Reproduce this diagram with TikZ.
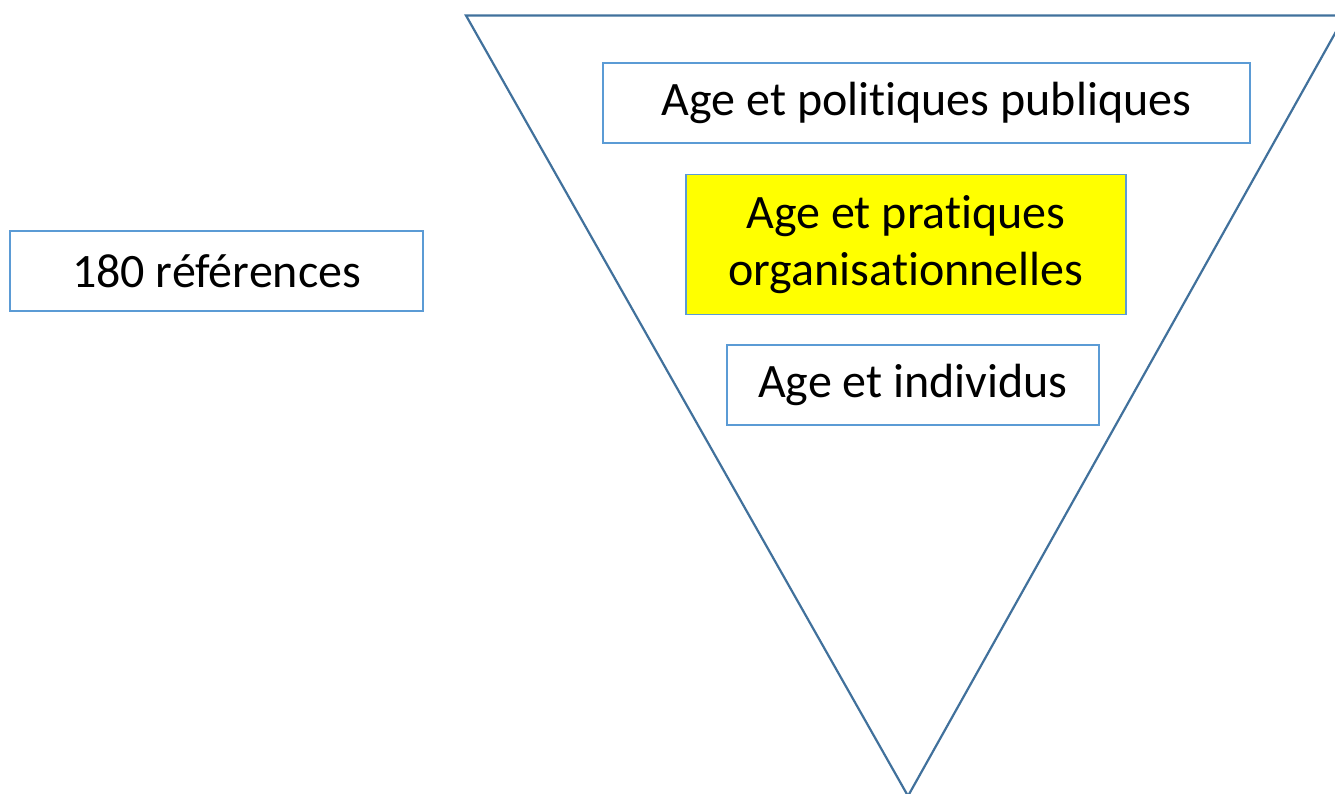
\documentclass[tikz,border=0pt]{standalone}
\usepackage{fontspec}
\setmainfont{Carlito}[Ligatures=NoCommon]
\definecolor{boxblue}{HTML}{5B9BD5}
\definecolor{triblue}{HTML}{41719C}
\definecolor{boxyellow}{HTML}{FFFF00}
\begin{document}
\begin{tikzpicture}[x=1pt,y=-1pt,
  lbox/.style={draw=boxblue,line width=1.5pt,inner sep=0pt,font=\fontsize{48}{57}\selectfont,align=center},
]
\useasboundingbox (0,0) rectangle (1335,794);
\begin{scope}
\clip (0,0) rectangle (1335,794);
\draw[triblue,line width=2.2pt,line join=miter] (466,15.5) -- (1345,15.5) -- (908,796) -- cycle;
\end{scope}
\node[lbox,minimum width=647pt,minimum height=80pt] (pol) at (926.5,103) {Age et politiques publiques};
\node[lbox,fill=boxyellow,minimum width=440pt,minimum height=140pt] (org) at (906,244.5) {Age et pratiques\\organisationnelles};
\node[lbox,minimum width=372pt,minimum height=80pt] (ind) at (913,385) {Age et individus};
\node[lbox,minimum width=413pt,minimum height=80pt] (ref) at (216.5,271) {180 références};
\end{tikzpicture}
\end{document}
